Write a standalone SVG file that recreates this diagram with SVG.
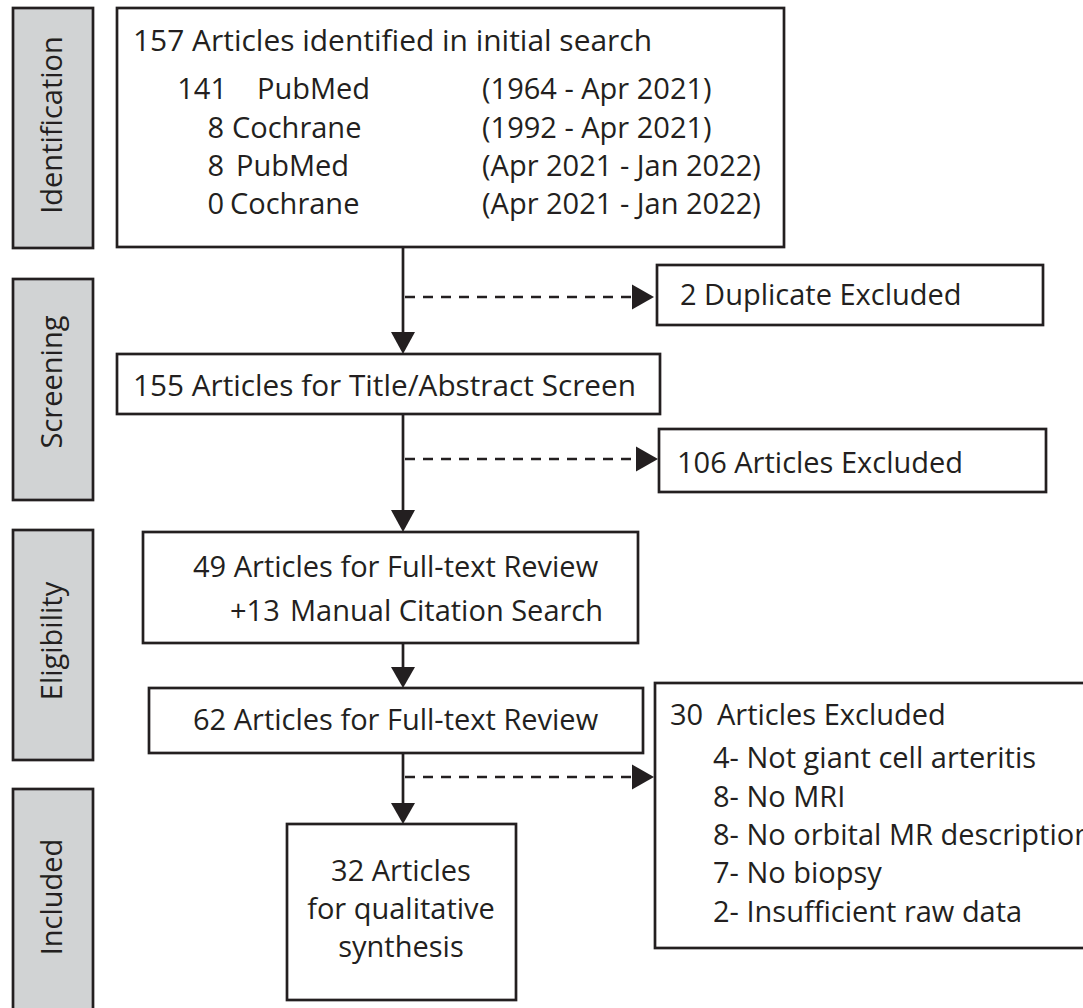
<svg xmlns="http://www.w3.org/2000/svg" width="1083" height="1008" viewBox="0 0 1083 1008">
<style>
text{font-family:"Open Sans","Noto Sans","Liberation Sans",sans-serif;font-size:29px;fill:#231f20}
.box{fill:#fff;stroke:#231f20;stroke-width:2.7}
.bar{fill:#d1d3d4;stroke:#231f20;stroke-width:2.7}
.line{stroke:#231f20;stroke-width:2.7;fill:none}
.dash{stroke:#231f20;stroke-width:2.7;fill:none;stroke-dasharray:10 8}
.head{fill:#231f20}
.side{text-anchor:middle}
.mid{text-anchor:middle}
.num{text-anchor:end}
</style>
<rect width="1083" height="1008" fill="#fff"/>
<g id="stage-identification"><rect class="bar" x="13" y="8" width="80" height="240"/><text class="side" transform="translate(62,125) rotate(-90)">Identification</text></g>
<g id="stage-screening"><rect class="bar" x="13" y="279" width="80" height="221"/><text class="side" transform="translate(62,382) rotate(-90)">Screening</text></g>
<g id="stage-eligibility"><rect class="bar" x="13" y="530" width="80" height="230"/><text class="side" transform="translate(62,641) rotate(-90)">Eligibility</text></g>
<g id="stage-included"><rect class="bar" x="13" y="789" width="80" height="240"/><text class="side" transform="translate(62,897) rotate(-90)">Included</text></g>
<g id="connectors">
<line class="line" x1="403" y1="247" x2="403" y2="334"/>
<polygon class="head" points="391,332 415,332 403,354"/>
<line class="dash" x1="405" y1="297" x2="634" y2="297"/>
<polygon class="head" points="632,284.5 632,309.5 654,297"/>
<line class="line" x1="403" y1="414" x2="403" y2="512"/>
<polygon class="head" points="391,510 415,510 403,532"/>
<line class="dash" x1="405" y1="459" x2="638" y2="459"/>
<polygon class="head" points="636,446.5 636,471.5 658,459"/>
<line class="line" x1="403" y1="643" x2="403" y2="669"/>
<polygon class="head" points="391,667 415,667 403,688"/>
<line class="line" x1="403" y1="753" x2="403" y2="805"/>
<polygon class="head" points="391,803 415,803 403,824"/>
<line class="dash" x1="405" y1="777" x2="634" y2="777"/>
<polygon class="head" points="632,764.5 632,789.5 654,777"/>
</g>
<g id="node-identified"><rect class="box" x="117" y="8" width="667" height="239"/>
<text x="133" y="51" textLength="519" lengthAdjust="spacingAndGlyphs">157 Articles identified in initial search</text>
<text class="num" x="227" y="99">141</text><text x="257" y="99">PubMed</text>
<text class="num" x="224" y="138">8</text><text x="232" y="138">Cochrane</text>
<text class="num" x="224" y="176">8</text><text x="236" y="176">PubMed</text>
<text class="num" x="224" y="214">0</text><text x="230" y="214">Cochrane</text>
<text x="482" y="99">(1964 - Apr 2021)</text>
<text x="482" y="138">(1992 - Apr 2021)</text>
<text x="482" y="176">(Apr 2021 - Jan 2022)</text>
<text x="482" y="214">(Apr 2021 - Jan 2022)</text></g>
<g id="node-duplicates"><rect class="box" x="657" y="265" width="386" height="60"/><text x="680" y="305">2 Duplicate Excluded</text></g>
<g id="node-screen"><rect class="box" x="117" y="354" width="543" height="60"/><text x="133" y="396" textLength="503" lengthAdjust="spacingAndGlyphs">155 Articles for Title/Abstract Screen</text></g>
<g id="node-excluded106"><rect class="box" x="659" y="429" width="387" height="63"/><text x="677" y="473">106 Articles Excluded</text></g>
<g id="node-fulltext49"><rect class="box" x="143" y="532" width="495" height="111"/><text x="193" y="577">49 Articles for Full-text Review</text><text x="230" y="621">+13 <tspan x="290">Manual Citation Search</tspan></text></g>
<g id="node-fulltext62"><rect class="box" x="149" y="688" width="494" height="65"/><text x="193" y="730">62 Articles for Full-text Review</text></g>
<g id="node-excluded30"><rect class="box" x="655" y="683" width="440" height="265"/>
<text x="670" y="725">30 <tspan x="717">Articles Excluded</tspan></text>
<text x="713" y="768">4- Not giant cell arteritis</text>
<text x="713" y="807">8- No MRI</text>
<text x="713" y="845">8- No orbital MR description</text>
<text x="713" y="883">7- No biopsy</text>
<text x="713" y="922">2- Insufficient raw data</text></g>
<g id="node-included"><rect class="box" x="287" y="824" width="229" height="176"/>
<text class="mid" x="401" y="881">32 Articles</text>
<text class="mid" x="401" y="919">for qualitative</text>
<text class="mid" x="401" y="957">synthesis</text></g>
</svg>
